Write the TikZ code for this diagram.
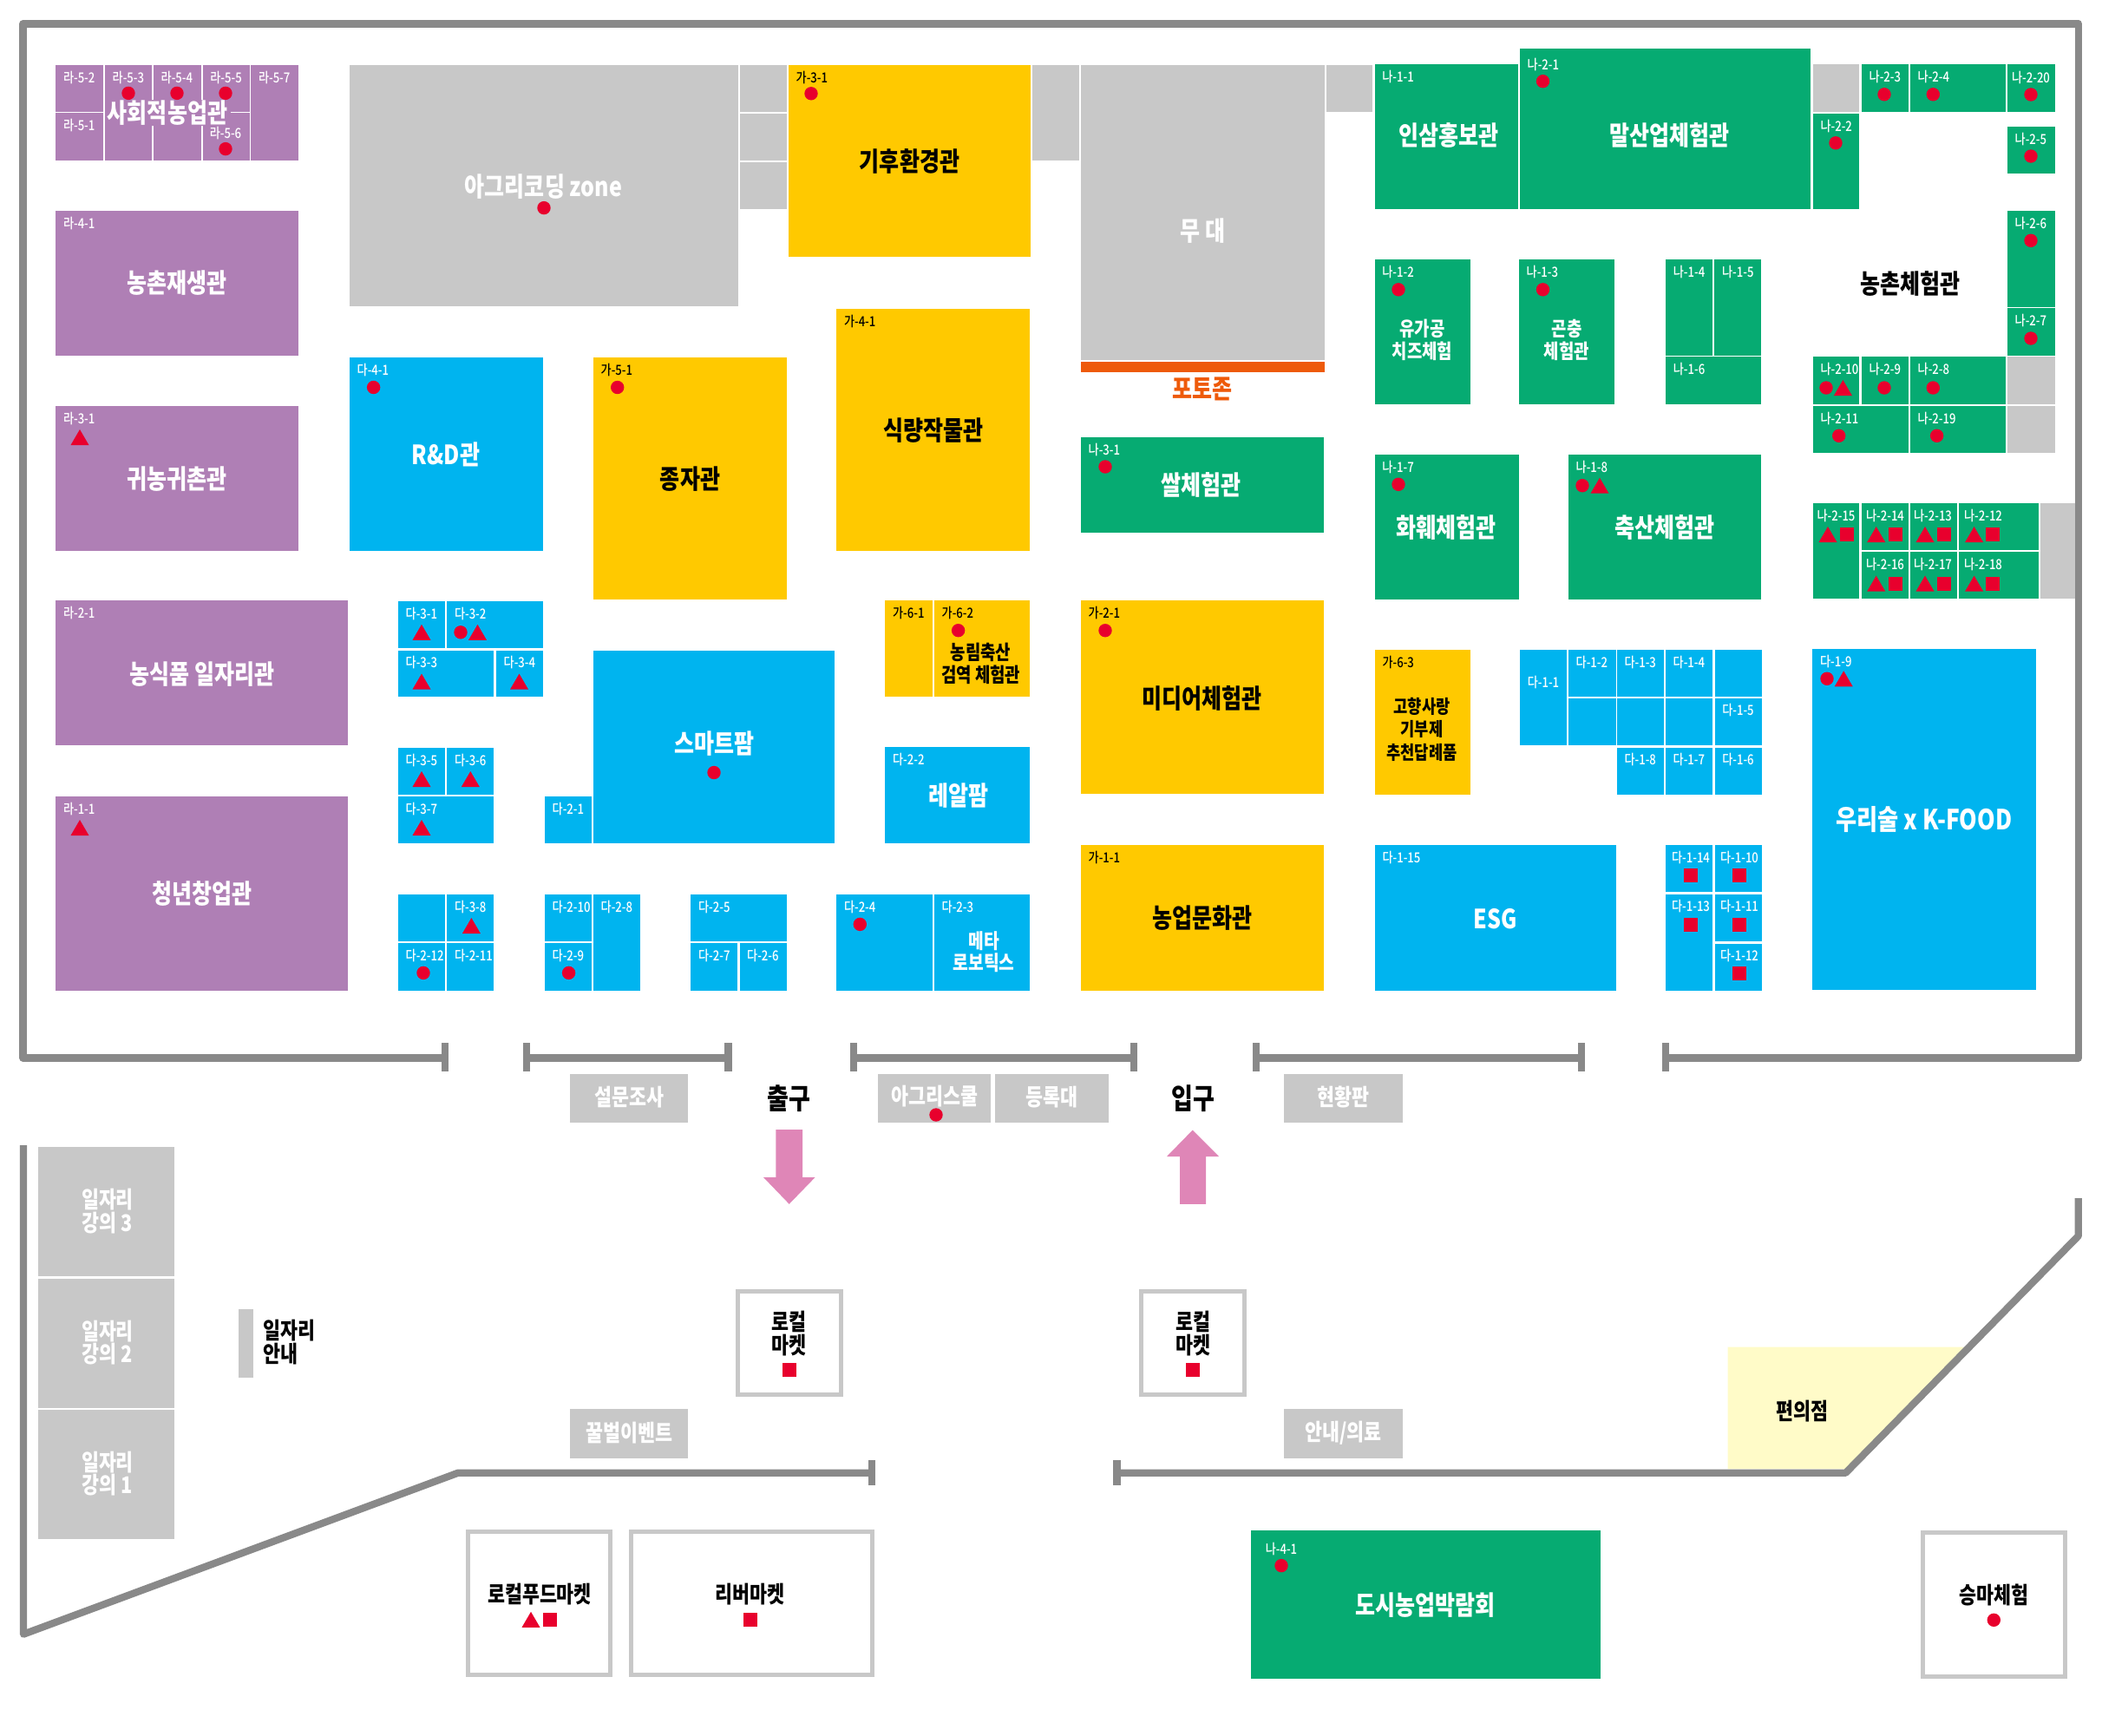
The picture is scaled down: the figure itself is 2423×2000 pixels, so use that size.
\documentclass[tikz,border=0pt]{standalone}
\usepackage{fontspec}
\setmainfont{Noto Sans CJK KR}[FakeStretch=0.82]
\newfontfamily\tagfont{Noto Sans CJK KR Medium}[FakeStretch=0.82]
\definecolor{cpurple}{HTML}{AF7FB5}
\definecolor{cblue}{HTML}{00B4EF}
\definecolor{cyellow}{HTML}{FFC900}
\definecolor{cgreen}{HTML}{06AB72}
\definecolor{cgray}{HTML}{C8C8C8}
\definecolor{cred}{HTML}{E8002D}
\definecolor{cwall}{HTML}{898989}
\definecolor{cpink}{HTML}{DF86B7}
\definecolor{corange}{HTML}{EE5A0A}
\definecolor{ccream}{HTML}{FFFBC8}
\tikzset{
  lbl/.style={inner sep=0pt,font=\tagfont\fontsize{16}{18}\selectfont},
  lblw/.style={lbl,text=white},
  lblk/.style={lbl,text=black},
  ttl/.style={inner sep=0pt,yshift=-1pt,align=center,font=\bfseries\fontsize{30.5}{34}\selectfont},
  ttlw/.style={ttl,text=white},
  ttlk/.style={ttl,text=black},
  sub/.style={inner sep=0pt,align=center,font=\bfseries\fontsize{23}{26}\selectfont},
  subw/.style={sub,text=white},
  subk/.style={sub,text=black},
  mid/.style={inner sep=0pt,align=center,font=\bfseries\fontsize{26.5}{26.5}\selectfont},
  midw/.style={mid,text=white},
  midk/.style={mid,text=black},
  door/.style={inner sep=0pt,font=\bfseries\fontsize{33}{36}\selectfont,text=black},
  wall/.style={draw=cwall,line width=8.3pt,line join=round},
  tick/.style={draw=cwall,line width=8.3pt},
  outl/.style={draw=cgray,line width=5pt,fill=white},
  mk/.style={fill=cred}
}
% room with a white tag / black tag at its top left corner
\newcommand\roomw[6]{\fill[#5] (#1,#2) rectangle (#3,#4);\node[lblw,anchor=west] at (#1+8.5,#2+14.5) {#6};}
\newcommand\roomk[6]{\fill[#5] (#1,#2) rectangle (#3,#4);\node[lblk,anchor=west] at (#1+8.5,#2+14.5) {#6};}
\newcommand\plain[5]{\fill[#5] (#1,#2) rectangle (#3,#4);}
\newcommand\dotm[2]{\fill[mk] (#1,#2) circle (7.7pt);}
\newcommand\trim[2]{\fill[mk] (#1-10.5,#2+9) -- (#1,#2-9) -- (#1+10.5,#2+9) -- cycle;}
\newcommand\sqm[2]{\fill[mk] (#1-8,#2-8) rectangle (#1+8,#2+8);}
\newcommand\tick[2]{\draw[tick] (#1,#2-16.3) -- (#1,#2+16.3);}
\begin{document}
\begin{tikzpicture}[x=1pt,y=-1pt]
\useasboundingbox (0,0) rectangle (2423,2000);
% ---------- walls
\draw[wall] (513,1219.5) -- (26.5,1219.5) -- (26.5,27.4) -- (2395.8,27.4) -- (2395.8,1219.5) -- (1920,1219.5);
\draw[wall] (607,1219.5) -- (839.5,1219.5);
\draw[wall] (983.7,1219.5) -- (1307,1219.5);
\draw[wall] (1448,1219.5) -- (1822.8,1219.5);
\tick{513}{1218.3}\tick{607}{1218.3}\tick{839.5}{1218.3}\tick{983.7}{1218.3}
\tick{1307}{1218.3}\tick{1448}{1218.3}\tick{1822.8}{1218.3}\tick{1920}{1218.3}
% ---------- purple
\roomw{64.3}{74.6}{119}{128.8}{cpurple}{라-5-2}
\roomw{64.3}{130.3}{119}{185}{cpurple}{라-5-1}
\roomw{121}{74.6}{175}{185}{cpurple}{라-5-3}
\roomw{177}{74.6}{231.6}{185}{cpurple}{라-5-4}
\roomw{233.7}{74.6}{287.8}{128.8}{cpurple}{라-5-5}
\plain{233.7}{130.3}{287.8}{185}{cpurple}
\roomw{289.3}{74.6}{344}{185}{cpurple}{라-5-7}
\fill[cpurple] (123,115) rectangle (266,145);
\node[ttlw] at (193,129.3) {사회적농업관};
\node[lblw] at (260,153.4) {라-5-6};
\dotm{148}{107.4}\dotm{204}{107.4}\dotm{260}{107.4}\dotm{260}{171.6}
\roomw{64.3}{243}{344}{409.6}{cpurple}{라-4-1}
\node[ttlw] at (204,325.5) {농촌재생관};
\roomw{64.3}{468}{344}{634.7}{cpurple}{라-3-1}
\trim{92}{504}
\node[ttlw] at (204,551.4) {귀농귀촌관};
\roomw{64.3}{692}{400.5}{859.4}{cpurple}{라-2-1}
\node[ttlw] at (232.7,775.6) {농식품 일자리관};
\roomw{64.3}{917.8}{400.5}{1141.7}{cpurple}{라-1-1}
\trim{92}{954}
\node[ttlw] at (232.7,1029) {청년창업관};
% ---------- top gray
\plain{403}{74.6}{851}{353}{cgray}
\node[ttlw] at (626.5,214.3) {아그리코딩 zone};
\dotm{627}{239.6}
\plain{853}{74.6}{907}{129}{cgray}
\plain{853}{130.6}{907}{185}{cgray}
\plain{853}{186.6}{907}{241}{cgray}
\plain{1190}{74.6}{1244}{185}{cgray}
\plain{1246}{74.6}{1526.5}{415.4}{cgray}
\node[ttlw] at (1386.7,265.3) {무 대};
\plain{1528.6}{74.6}{1582}{129}{cgray}
\fill[corange] (1246,417) rectangle (1526.5,428.7);
\node[ttl,text=corange] at (1386,447) {포토존};
% ---------- yellow
\roomk{909}{74.6}{1187.8}{296}{cyellow}{가-3-1}
\dotm{935}{107.8}
\node[ttlk] at (1048.5,185.3) {기후환경관};
\roomk{964.3}{356}{1187}{634.7}{cyellow}{가-4-1}
\node[ttlk] at (1076,494.6) {식량작물관};
\roomk{684}{411.7}{907}{690.6}{cyellow}{가-5-1}
\dotm{711.7}{446.5}
\node[ttlk] at (795.5,551.4) {종자관};
\roomk{1020.4}{692.3}{1075}{803}{cyellow}{가-6-1}
\roomk{1077}{692.3}{1187}{803}{cyellow}{가-6-2}
\dotm{1104.6}{726.7}
\node[subk] at (1130.6,765.2) {농림축산\\검역 체험관};
\roomk{1246}{692}{1525.5}{915.3}{cyellow}{가-2-1}
\dotm{1274}{726.7}
\node[ttlk] at (1385.7,803.8) {미디어체험관};
\roomk{1246}{974}{1525.5}{1141.7}{cyellow}{가-1-1}
\node[ttlk] at (1385.7,1057.5) {농업문화관};
\roomk{1584.8}{748.6}{1694.8}{915.5}{cyellow}{가-6-3}
\node[subk,font=\bfseries\fontsize{21.5}{26.2}\selectfont] at (1639,840.7) {고향사랑\\기부제\\추천답례품};
% ---------- green
\roomw{1246}{503.7}{1525.5}{614}{cgreen}{나-3-1}
\dotm{1274}{538}
\node[ttlw] at (1384.7,558) {쌀체험관};
\roomw{1584.7}{74.4}{1750}{241}{cgreen}{나-1-1}
\node[ttlw] at (1670,155) {인삼홍보관};
\plain{1752}{56}{2087}{241}{cgreen}
\node[lblw,anchor=west] at (1760.5,74) {나-2-1};
\dotm{1778.5}{93.7}
\node[ttlw] at (1924.4,155) {말산업체험관};
\plain{2089.8}{74.4}{2143.3}{128.6}{cgray}
\roomw{2089.8}{130.9}{2143.3}{241}{cgreen}{나-2-2}
\dotm{2116}{164.8}
\roomw{2146}{74.4}{2199.5}{128.6}{cgreen}{나-2-3}
\dotm{2172}{108.8}
\roomw{2202}{74.4}{2312}{128.6}{cgreen}{나-2-4}
\dotm{2228.3}{108.8}
\fill[cgreen] (2314,74.4) rectangle (2368.5,128.6);
\node[lblw] at (2341,89) {나-2-20};
\dotm{2341}{109}
\roomw{2314}{146}{2368.5}{200}{cgreen}{나-2-5}
\dotm{2341}{180}
\roomw{2314}{243}{2368.5}{353.5}{cgreen}{나-2-6}
\dotm{2341}{277.3}
\roomw{2314}{355.4}{2368.5}{409.5}{cgreen}{나-2-7}
\dotm{2341}{390}
\node[ttlk] at (2202,326) {농촌체험관};
\roomw{1584.7}{299.4}{1695}{466}{cgreen}{나-1-2}
\dotm{1612}{333.8}
\node[subw] at (1639.4,392) {유가공\\치즈체험};
\roomw{1751}{299.4}{1861.4}{466}{cgreen}{나-1-3}
\dotm{1778.5}{333.8}
\node[subw] at (1806,392) {곤충\\체험관};
\roomw{1920.2}{299.4}{1974.3}{409.5}{cgreen}{나-1-4}
\roomw{1976.4}{299.4}{2030.4}{409.5}{cgreen}{나-1-5}
\roomw{1920.2}{411.4}{2030.4}{466}{cgreen}{나-1-6}
\roomw{2089.8}{411.4}{2143.3}{466}{cgreen}{나-2-10}
\dotm{2105}{447}\trim{2124.4}{447}
\roomw{2146}{411.4}{2199.5}{466}{cgreen}{나-2-9}
\dotm{2172}{447}
\roomw{2202}{411.4}{2312}{466}{cgreen}{나-2-8}
\dotm{2228.3}{447}
\plain{2314}{411.4}{2368.5}{466}{cgray}
\roomw{2089.8}{467.9}{2199.5}{522}{cgreen}{나-2-11}
\dotm{2119.7}{502.3}
\roomw{2202}{467.9}{2312}{522}{cgreen}{나-2-19}
\dotm{2232.6}{502.3}
\plain{2314}{467.9}{2368.5}{522}{cgray}
\roomw{1584.7}{523.9}{1751}{690.5}{cgreen}{나-1-7}
\dotm{1612}{558.3}
\node[ttlw] at (1667,607) {화훼체험관};
\roomw{1808}{523.9}{2030.4}{690.5}{cgreen}{나-1-8}
\dotm{1824}{559.7}\trim{1844}{559.7}
\node[ttlw] at (1919,607) {축산체험관};
\fill[cgreen] (2089.8,580) rectangle (2143.3,690);
\node[lblw] at (2116.5,594) {나-2-15};
\trim{2107}{616}\sqm{2128.6}{616}
\fill[cgreen] (2146,580) rectangle (2199.5,634);
\node[lblw] at (2173,594) {나-2-14};
\trim{2162.7}{616}\sqm{2184.8}{616}
\fill[cgreen] (2202,580) rectangle (2256,634);
\node[lblw] at (2228,594) {나-2-13};
\trim{2219}{616}\sqm{2241}{616}
\fill[cgreen] (2258.3,580) rectangle (2350,634);
\node[lblw] at (2286,594) {나-2-12};
\trim{2275.6}{616}\sqm{2297}{616}
\fill[cgreen] (2146,636) rectangle (2199.5,690);
\node[lblw] at (2173,650.6) {나-2-16};
\trim{2162.7}{672.6}\sqm{2184.8}{672.6}
\fill[cgreen] (2202,636) rectangle (2256,690);
\node[lblw] at (2228,650.6) {나-2-17};
\trim{2219}{672.6}\sqm{2241}{672.6}
\fill[cgreen] (2258.3,636) rectangle (2350,690);
\node[lblw] at (2286,650.6) {나-2-18};
\trim{2275.6}{672.6}\sqm{2297}{672.6}
\plain{2352}{580}{2391.6}{690}{cgray}
% ---------- blue
\roomw{403}{411.7}{626}{634.7}{cblue}{다-4-1}
\dotm{430.6}{446.5}
\node[ttlw] at (514,523) {R\&D관};
\roomw{459}{693}{513}{747.4}{cblue}{다-3-1}
\trim{486}{728.8}
\roomw{515.3}{693}{626}{747.4}{cblue}{다-3-2}
\dotm{531}{728.8}\trim{550.5}{728.8}
\roomw{459}{749.5}{569.4}{803}{cblue}{다-3-3}
\trim{486}{785.6}
\roomw{572}{749.5}{626}{803}{cblue}{다-3-4}
\trim{598.5}{785.6}
\roomw{459}{861.9}{513}{916}{cblue}{다-3-5}
\trim{486}{898}
\roomw{515.3}{861.9}{569.4}{916}{cblue}{다-3-6}
\trim{542.3}{898}
\roomw{459}{917.8}{569.4}{971.7}{cblue}{다-3-7}
\trim{486}{954}
\roomw{628}{917.8}{682}{971.7}{cblue}{다-2-1}
\plain{684}{749.5}{962.2}{971.7}{cblue}
\node[ttlw] at (823.6,856.5) {스마트팜};
\dotm{823}{890.5}
\plain{459}{1030.6}{513}{1085}{cblue}
\roomw{515.3}{1030.6}{569.4}{1085}{cblue}{다-3-8}
\trim{543.4}{1067}
\roomw{459}{1087.4}{513}{1141.7}{cblue}{다-2-12}
\dotm{488}{1121.4}
\roomw{515.3}{1087.4}{569.4}{1141.7}{cblue}{다-2-11}
\roomw{628}{1030.6}{682}{1085}{cblue}{다-2-10}
\roomw{628}{1087.4}{682}{1141.7}{cblue}{다-2-9}
\dotm{655.6}{1121.4}
\roomw{684}{1030.6}{737.8}{1141.7}{cblue}{다-2-8}
\roomw{796.4}{1030.6}{906.6}{1085}{cblue}{다-2-5}
\roomw{796.4}{1087.4}{850}{1141.7}{cblue}{다-2-7}
\roomw{852.5}{1087.4}{906.6}{1141.7}{cblue}{다-2-6}
\roomw{964.3}{1030.6}{1075}{1141.7}{cblue}{다-2-4}
\dotm{991.3}{1065.4}
\roomw{1077}{1030.6}{1187}{1141.7}{cblue}{다-2-3}
\node[subw,font=\bfseries\fontsize{23.5}{25.3}\selectfont] at (1134,1097) {메타\\로보틱스};
\roomw{1020.4}{861.4}{1187}{971.7}{cblue}{다-2-2}
\node[ttlw] at (1104.6,916) {레알팜};
\fill[cblue] (1751.5,748.6) rectangle (1806,859.2);
\node[lblw] at (1779,787) {다-1-1};
\roomw{1808}{748.6}{1862.7}{803.3}{cblue}{다-1-2}
\roomw{1863.8}{748.6}{1917.7}{803.3}{cblue}{다-1-3}
\roomw{1920}{748.6}{1974}{803.3}{cblue}{다-1-4}
\plain{1976.6}{748.6}{2030.6}{803.3}{cblue}
\plain{1808}{804.5}{1862.7}{859.2}{cblue}
\plain{1863.8}{804.5}{1917.7}{859.2}{cblue}
\plain{1920}{804.5}{1974}{859.2}{cblue}
\roomw{1976.6}{804.5}{2030.6}{859.2}{cblue}{다-1-5}
\roomw{1863.8}{861.5}{1917.7}{915.5}{cblue}{다-1-8}
\roomw{1920}{861.5}{1974}{915.5}{cblue}{다-1-7}
\roomw{1976.6}{861.5}{2030.6}{915.5}{cblue}{다-1-6}
\roomw{1584.8}{974}{1863.2}{1141.6}{cblue}{다-1-15}
\node[ttlw] at (1724,1057.8) {ESG};
\fill[cblue] (1920,974) rectangle (1974,1028.4);
\node[lblw] at (1949,988.6) {다-1-14};
\sqm{1949}{1008.8}
\fill[cblue] (1976.6,974) rectangle (2030.6,1028.4);
\node[lblw] at (2005,988.6) {다-1-10};
\sqm{2005}{1008.8}
\fill[cblue] (1920,1030.6) rectangle (1974,1141.6);
\node[lblw] at (1949,1045) {다-1-13};
\sqm{1949}{1065.9}
\fill[cblue] (1976.6,1030.6) rectangle (2030.6,1085);
\node[lblw] at (2005,1045) {다-1-11};
\sqm{2005}{1065.9}
\fill[cblue] (1976.6,1088) rectangle (2030.6,1141.6);
\node[lblw] at (2005,1101.8) {다-1-12};
\sqm{2005}{1122}
\roomw{2089.4}{748}{2347}{1141.3}{cblue}{다-1-9}
\dotm{2106}{782.3}\trim{2125.2}{782.3}
\node[ttlw,font=\bfseries\fontsize{32}{34}\selectfont] at (2217.7,943.8) {우리술 x K-FOOD};
% ---------- between the halls
\plain{657}{1237.5}{793.4}{1293.9}{cgray}
\node[midw] at (725.7,1265) {설문조사};
\plain{1011.7}{1237.5}{1141.8}{1293.9}{cgray}
\node[midw] at (1077,1263.6) {아그리스쿨};
\dotm{1079}{1285}
\plain{1147.4}{1237.5}{1278}{1293.9}{cgray}
\node[midw] at (1212,1265) {등록대};
\plain{1480}{1237.5}{1616.5}{1293.9}{cgray}
\node[midw] at (1548,1265) {현황판};
\node[door] at (909.7,1266.5) {출구};
\node[door] at (1375,1266.5) {입구};
\fill[cpink] (894.4,1302) -- (925,1302) -- (925,1357) -- (939.6,1357) -- (909.7,1387.8) -- (880,1357) -- (894.4,1357) -- cycle;
\fill[cpink] (1374.7,1302.6) -- (1405,1333) -- (1390,1333) -- (1390,1387.8) -- (1360,1387.8) -- (1360,1333) -- (1345,1333) -- cycle;
% ---------- outdoor
\fill[ccream] (1991.7,1552.5) -- (2264.7,1552.5) -- (2126.7,1693) -- (1991.7,1693) -- cycle;
\node[midk] at (2077.5,1626.5) {편의점};
\draw[wall] (27,1320) -- (27,1883.7) -- (528,1697.7) -- (1005,1697.7);
\draw[tick] (1005,1683) -- (1005,1711.7);
\draw[wall] (1287.4,1697.7) -- (2127.5,1697.7) -- (2395.8,1424.5) -- (2395.8,1381);
\draw[tick] (1287.4,1683) -- (1287.4,1711.7);
\plain{43.6}{1322}{200.5}{1471}{cgray}
\node[midw] at (124,1396) {일자리\\강의 3};
\plain{43.6}{1474}{200.5}{1623}{cgray}
\node[midw] at (124,1547.5) {일자리\\강의 2};
\plain{43.6}{1625}{200.5}{1773.5}{cgray}
\node[midw] at (124,1698.5) {일자리\\강의 1};
\plain{274.7}{1508.7}{291.5}{1587.8}{cgray}
\node[midk,anchor=west,align=left] at (303,1547) {일자리\\안내};
\draw[outl] (850.2,1488.2) rectangle (969.2,1607.5);
\node[midk] at (909.7,1537.2) {로컬\\마켓};
\sqm{909.7}{1578.6}
\draw[outl] (1315.5,1488.2) rectangle (1434.5,1607.5);
\node[midk] at (1375,1537.2) {로컬\\마켓};
\sqm{1375}{1578.6}
\plain{656.5}{1624}{792.7}{1680.6}{cgray}
\node[midw] at (725.3,1652) {꿀벌이벤트};
\plain{1480}{1624}{1616.5}{1680.6}{cgray}
\node[midw] at (1548.7,1652) {안내/의료};
\draw[outl] (539.5,1765.5) rectangle (703.5,1930.5);
\node[midk] at (622,1837.8) {로컬푸드마켓};
\trim{612}{1866.8}\sqm{634}{1866.8}
\draw[outl] (727.1,1765.5) rectangle (1005.2,1930.5);
\node[midk] at (864.6,1837.8) {리버마켓};
\sqm{864.6}{1866.8}
\plain{1441.8}{1763.8}{1845}{1934.7}{cgreen}
\node[lblw] at (1477,1785) {나-4-1};
\dotm{1477}{1804.6}
\node[ttlw] at (1643,1849) {도시농업박람회};
\draw[outl] (2216.5,1766.5) rectangle (2380.5,1932.2);
\node[midk] at (2298.3,1838.8) {승마체험};
\dotm{2298.3}{1867.3}
\end{tikzpicture}
\end{document}
